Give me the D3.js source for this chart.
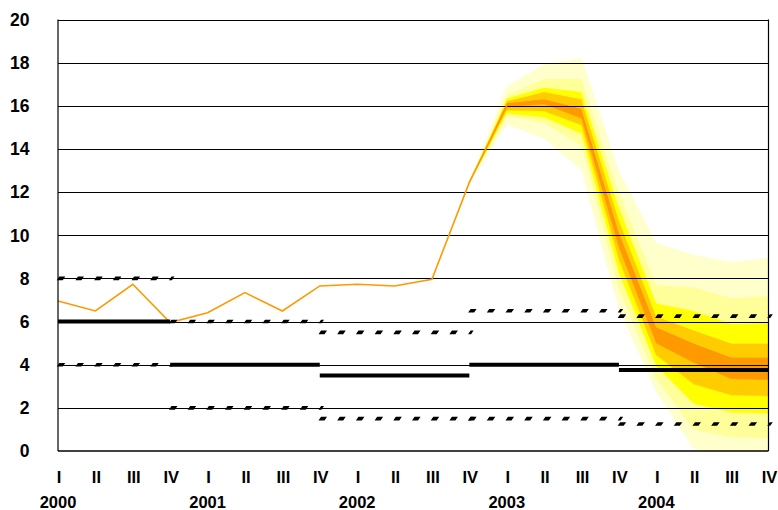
<!DOCTYPE html>
<html>
<head>
<meta charset="utf-8">
<script src="https://cdn.jsdelivr.net/npm/d3@7"></script>
<style>
  html, body { margin: 0; padding: 0; background: #fff; }
  svg text { font-family: "Liberation Sans", Arial, sans-serif; font-weight: bold; fill: #000; }
</style>
</head>
<body>
<svg id="chart" width="778" height="510"></svg>
<script>
// ---------- data ----------
const years = ["2000", "2001", "2002", "2003", "2004"];
const quarterNames = ["I", "II", "III", "IV"];
const yTicks = [0, 2, 4, 6, 8, 10, 12, 14, 16, 18, 20];

// observed inflation, quarters 0 (2000 I) .. 12 (2003 I)
const history = [6.95, 6.49, 7.73, 5.95, 6.41, 7.34, 6.49, 7.65, 7.73, 7.65, 7.96, 12.45, 16.0];

// fan chart: quarter indices and band boundaries (low -> high)
const fanQuarters = [11, 12, 13, 14, 15, 16, 17, 18, 19];
const fanB0 = [12.45, 15.14, 14.49, 13.02, 6.6, 2.75, 0.1, -0.1, -0.2];
const fanB1 = [12.45, 15.53, 15.19, 14.18, 7.5, 3.35, 1.0, 0.65, 0.6];
const fanB2 = [12.45, 15.65, 15.47, 14.72, 8.3, 3.95, 2.2, 1.8, 1.75];
const fanB3 = [12.45, 15.8, 15.76, 15.11, 8.9, 4.45, 3.1, 2.6, 2.55];
const fanB4 = [12.45, 15.93, 16.08, 15.42, 9.45, 5.0, 4.1, 3.35, 3.3];
const fanB5 = [12.45, 16.14, 16.32, 15.88, 10.15, 5.75, 5.0, 4.35, 4.35];
const fanB6 = [12.45, 16.22, 16.65, 16.32, 10.7, 6.25, 5.6, 5.0, 5.0];
const fanB7 = [12.45, 16.35, 16.86, 16.65, 11.3, 6.85, 6.5, 5.9, 5.95];
const fanB8 = [12.45, 16.5, 17.27, 17.27, 12.0, 7.7, 7.6, 7.1, 7.2];
const fanB9 = [12.45, 16.89, 17.92, 18.2, 12.95, 9.63, 9.08, 8.75, 8.94];
const fanColors = ["#FFFFCC", "#FFFF99", "#FFFF00", "#FFCC00", "#FF9900", "#FFCC00", "#FFFF00", "#FFFF99", "#FFFFCC"];

// inflation targets: segment start/end quarter, central value, band edges
const targetStart = [0, 3, 7, 11, 15];
const targetEnd = [3, 7, 11, 15, 19];
const targetCentral = [6, 4, 3.5, 4, 3.75];
const targetUpper = [8, 6, 5.5, 6.5, 6.25];
const targetLower = [4, 2, 1.5, 1.5, 1.25];

// ---------- layout ----------
const svg = d3.select("#chart");
const plotLeft = 58, plotRight = 768.5, plotTop = 19.5, plotBottom = 451;
const x = d3.scaleLinear().domain([0, 19]).range([plotLeft, plotRight]);
const y = d3.scaleLinear().domain([0, 20]).range([plotBottom, plotTop]);

svg.append("defs").append("clipPath").attr("id", "plotclip")
  .append("rect").attr("x", plotLeft).attr("y", plotTop)
  .attr("width", plotRight - plotLeft).attr("height", plotBottom - plotTop);

// ---------- fan ----------
const bounds = [fanB0, fanB1, fanB2, fanB3, fanB4, fanB5, fanB6, fanB7, fanB8, fanB9];
const fanG = svg.append("g").attr("clip-path", "url(#plotclip)");
for (let k = 0; k < bounds.length - 1; k++) {
  const lo = bounds[k], hi = bounds[k + 1];
  const area = d3.area()
    .x((d, i) => x(fanQuarters[i]))
    .y0((d, i) => y(lo[i]))
    .y1((d, i) => y(hi[i]));
  fanG.append("path").datum(fanQuarters).attr("d", area)
    .attr("fill", fanColors[k]).attr("stroke", fanColors[k]).attr("stroke-width", 0.5);
}

// ---------- gridlines ----------
svg.append("g").selectAll("line").data(yTicks.filter(t => t > 0)).join("line")
  .attr("x1", plotLeft).attr("x2", plotRight)
  .attr("y1", d => Math.round(y(d)) + 0.5).attr("y2", d => Math.round(y(d)) + 0.5)
  .attr("stroke", "#000").attr("stroke-width", 1);

// ---------- history line ----------
svg.append("path").datum(history)
  .attr("d", d3.line().x((d, i) => x(i)).y(d => y(d)))
  .attr("fill", "none").attr("stroke", "#FF9900").attr("stroke-width", 1.6);

// ---------- target lines ----------
const tg = svg.append("g");
targetStart.forEach((s, i) => {
  const e = targetEnd[i];
  tg.append("line")
    .attr("x1", x(s)).attr("x2", x(e))
    .attr("y1", y(targetCentral[i])).attr("y2", y(targetCentral[i]))
    .attr("stroke", "#000").attr("stroke-width", 4);
  [targetUpper[i], targetLower[i]].forEach(v => {
    tg.append("line")
      .attr("transform", `translate(${x(s)},${y(v)}) skewX(-35)`)
      .attr("x1", 0).attr("x2", x(e) - x(s) + 3)
      .attr("y1", 0).attr("y2", 0)
      .attr("stroke", "#000").attr("stroke-width", 3.6)
      .attr("stroke-dasharray", "6,12.7");
  });
});

// ---------- frame ----------
svg.append("line").attr("x1", plotLeft).attr("x2", plotLeft).attr("y1", plotTop).attr("y2", plotBottom)
  .attr("stroke", "#000").attr("stroke-width", 1.2);
svg.append("line").attr("x1", plotRight).attr("x2", plotRight).attr("y1", plotTop).attr("y2", plotBottom)
  .attr("stroke", "#000").attr("stroke-width", 1.2);
svg.append("line").attr("x1", plotLeft).attr("x2", plotRight).attr("y1", plotBottom).attr("y2", plotBottom)
  .attr("stroke", "#000").attr("stroke-width", 1.5);

// ---------- y labels ----------
svg.append("g").selectAll("text").data(yTicks).join("text")
  .attr("x", 29.5).attr("y", d => y(d)).attr("dy", "0.36em")
  .attr("text-anchor", "end").attr("font-size", "17.5px")
  .text(d => d);

// ---------- x labels ----------
const qIdx = d3.range(20);
svg.append("g").selectAll("text").data(qIdx).join("text")
  .attr("x", d => x(d) + 1).attr("y", 483)
  .attr("text-anchor", "middle").attr("font-size", "16.5px")
  .text(d => quarterNames[d % 4]);
svg.append("g").selectAll("text").data(years).join("text")
  .attr("x", (d, i) => x(i * 4)).attr("y", 508)
  .attr("text-anchor", "middle").attr("font-size", "16.5px")
  .text(d => d);
</script>
</body>
</html>
